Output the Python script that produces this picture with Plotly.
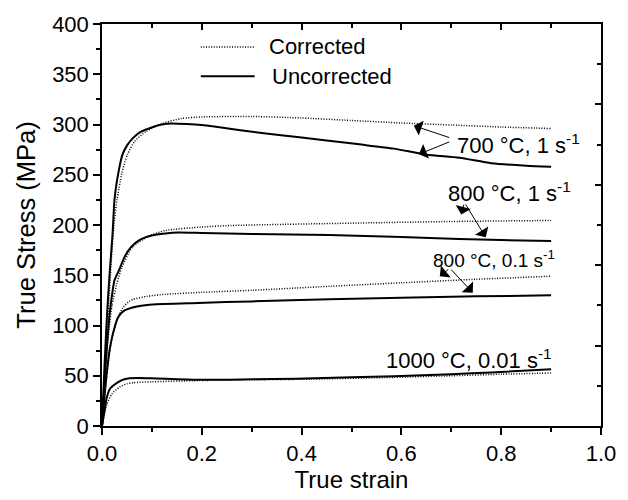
import plotly.graph_objects as go

# ---- data (true strain, true stress MPa) ----
s700_unc_x = [0, 0.005, 0.01, 0.015, 0.021, 0.025, 0.03, 0.041, 0.05, 0.061, 0.075, 0.094, 0.115, 0.137, 0.17, 0.2, 0.225, 0.32, 0.4, 0.45, 0.52, 0.585, 0.65, 0.716, 0.78, 0.85, 0.9]
s700_unc_y = [0, 60, 110, 150, 190, 225, 244, 270, 279, 286, 292, 296, 299.5, 301, 300.5, 299.5, 298, 291.5, 287, 284, 280, 276, 270, 267, 261.5, 259, 258]

s700_cor_x = [0, 0.005, 0.01, 0.015, 0.02, 0.025, 0.03, 0.04, 0.051, 0.065, 0.088, 0.12, 0.16, 0.2, 0.3, 0.4, 0.5, 0.6, 0.7, 0.8, 0.9]
s700_cor_y = [0, 45, 90, 135, 175, 205, 225, 252, 270, 283, 293, 301, 306, 307.5, 308, 306.5, 304, 301.5, 299.5, 297.5, 296]

s800a_unc_x = [0, 0.005, 0.01, 0.015, 0.02, 0.025, 0.035, 0.045, 0.058, 0.075, 0.1, 0.127, 0.153, 0.2, 0.3, 0.455, 0.6, 0.716, 0.8, 0.9]
s800a_unc_y = [0, 45, 80, 110, 130, 145, 156, 168, 178, 185, 189.5, 191.5, 192.5, 192, 191, 190, 188, 186, 185, 184]

s800a_cor_x = [0, 0.005, 0.01, 0.015, 0.02, 0.03, 0.04, 0.061, 0.094, 0.127, 0.2, 0.258, 0.35, 0.52, 0.7, 0.9]
s800a_cor_y = [0, 40, 75, 100, 120, 142, 158, 178, 189, 194.5, 198, 199.5, 200.5, 202, 203.5, 204.5]

s800b_unc_x = [0, 0.005, 0.01, 0.015, 0.022, 0.032, 0.045, 0.07, 0.1, 0.193, 0.3, 0.455, 0.6, 0.75, 0.9]
s800b_unc_y = [0, 30, 55, 75, 92, 108, 115, 119, 121, 122.5, 124, 126, 127.5, 129, 130]

s800b_cor_x = [0, 0.005, 0.01, 0.015, 0.02, 0.03, 0.042, 0.055, 0.062, 0.09, 0.127, 0.2, 0.3, 0.455, 0.6, 0.75, 0.9]
s800b_cor_y = [0, 28, 52, 72, 88, 105, 118, 124, 126, 129, 131, 133, 135, 139, 142.5, 146, 149]

s1000_unc_x = [0, 0.003, 0.006, 0.009, 0.016, 0.026, 0.035, 0.045, 0.055, 0.07, 0.1, 0.193, 0.3, 0.389, 0.5, 0.585, 0.7, 0.78, 0.9]
s1000_unc_y = [0, 9, 17.7, 27, 37, 41.5, 44.5, 46.5, 47.5, 47.8, 47.5, 46, 46.5, 47, 48.5, 49.5, 51.5, 53.3, 56.5]

s1000_cor_x = [0, 0.005, 0.01, 0.02, 0.035, 0.05, 0.062, 0.1, 0.193, 0.3, 0.4, 0.585, 0.7, 0.8, 0.9]
s1000_cor_y = [0, 12, 22, 32, 38.7, 42, 43, 44, 45.2, 46, 46.5, 48.4, 50, 51.5, 52.7]

x_ticks = [0.0, 0.2, 0.4, 0.6, 0.8, 1.0]
y_ticks = [0, 50, 100, 150, 200, 250, 300, 350, 400]

FONT = "Arial, Liberation Sans, sans-serif"
DOT = "1px,1.6px"

fig = go.Figure()

corrected = [(s700_cor_x, s700_cor_y), (s800a_cor_x, s800a_cor_y), (s800b_cor_x, s800b_cor_y), (s1000_cor_x, s1000_cor_y)]
uncorrected = [(s700_unc_x, s700_unc_y), (s800a_unc_x, s800a_unc_y), (s800b_unc_x, s800b_unc_y), (s1000_unc_x, s1000_unc_y)]

for xs, ys in corrected:
    fig.add_trace(go.Scatter(x=xs, y=ys, mode="lines", showlegend=False,
                             line=dict(color="black", width=1.5, dash=DOT, shape="spline", smoothing=0.6)))
for xs, ys in uncorrected:
    fig.add_trace(go.Scatter(x=xs, y=ys, mode="lines", showlegend=False,
                             line=dict(color="black", width=2, shape="spline", smoothing=0.6)))

# dummy trace to activate the mirrored (top/right) axes
fig.add_trace(go.Scatter(x=[], y=[], xaxis="x2", yaxis="y2", showlegend=False))

axis_common = dict(showline=True, linecolor="black", linewidth=1.5, showgrid=False, zeroline=False)

fig.update_layout(
    width=628, height=500,
    margin=dict(l=102, r=17, t=20, b=68),
    paper_bgcolor="white", plot_bgcolor="white",
    font=dict(family=FONT, color="black", size=22),
    xaxis=dict(range=[0, 1], tickvals=x_ticks, tickformat=".1f", ticks="outside", ticklen=7, tickwidth=1.5,
               tickcolor="black", minor=dict(dtick=0.1, ticks="outside", ticklen=4, tickwidth=1.5, tickcolor="black"),
               tickfont=dict(size=22), title=dict(text="True strain", font=dict(size=24), standoff=5),
               **axis_common),
    yaxis=dict(range=[0, 400], tickvals=y_ticks, ticks="outside", ticklen=7, tickwidth=1.5, tickcolor="black",
               minor=dict(dtick=25, ticks="outside", ticklen=4, tickwidth=1.5, tickcolor="black"),
               tickfont=dict(size=22), title=dict(text="True Stress (MPa)", font=dict(size=25.5), standoff=9),
               **axis_common),
    xaxis2=dict(range=[0, 1], overlaying="x", side="top", showticklabels=False, dtick=0.2, ticks="inside",
                ticklen=6, tickwidth=1.5, tickcolor="black",
                minor=dict(dtick=0.1, ticks="inside", ticklen=4, tickwidth=1.5, tickcolor="black"), **axis_common),
    yaxis2=dict(range=[0, 400], overlaying="y", side="right", showticklabels=False, dtick=80, ticks="inside",
                ticklen=6, tickwidth=1.5, tickcolor="black",
                minor=dict(dtick=40, ticks="inside", ticklen=4, tickwidth=1.5, tickcolor="black"), **axis_common),
)

# manual legend
fig.add_shape(type="line", xref="paper", yref="paper", x0=0.198, x1=0.306, y0=0.943, y1=0.943,
              line=dict(color="black", width=1.5, dash=DOT))
fig.add_shape(type="line", xref="paper", yref="paper", x0=0.198, x1=0.306, y0=0.870, y1=0.870,
              line=dict(color="black", width=2))
fig.add_annotation(text="Corrected", xref="paper", yref="paper", x=0.33, y=0.943, xanchor="left",
                   yanchor="middle", showarrow=False, font=dict(size=22))
fig.add_annotation(text="Uncorrected", xref="paper", yref="paper", x=0.336, y=0.870, xanchor="left",
                   yanchor="middle", showarrow=False, font=dict(size=22))

# labels
labels = [
    ("700 °C, 1 s<sup>-1</sup>", 0.707, 281, 22),
    ("800 °C, 1 s<sup>-1</sup>", 0.689, 233, 22),
    ("800 °C, 0.1 s<sup>-1</sup>", 0.66, 166.5, 19),
    ("1000 °C, 0.01 s<sup>-1</sup>", 0.566, 66.5, 22),
]
for txt, lx, ly, fs in labels:
    fig.add_annotation(text=txt, x=lx, y=ly, xanchor="left", yanchor="middle", showarrow=False,
                       font=dict(size=fs))

# arrows: (head_x, head_y, tail_x, tail_y)
arrows = [
    (0.625, 298.8, 0.699, 286.5),
    (0.635, 270.4, 0.699, 283.3),
    (0.72, 210.4, 0.726, 221.8),
    (0.769, 187.8, 0.727, 221.8),
    (0.677, 148.9, 0.697, 157),
    (0.743, 132.7, 0.697, 157),
]
for hx, hy, tx, ty in arrows:
    fig.add_annotation(text="", x=hx, y=hy, ax=tx, ay=ty, axref="x", ayref="y", showarrow=True,
                       arrowhead=1, arrowsize=2.6, arrowwidth=1, arrowcolor="black", standoff=0)

fig.write_html("out.html")
